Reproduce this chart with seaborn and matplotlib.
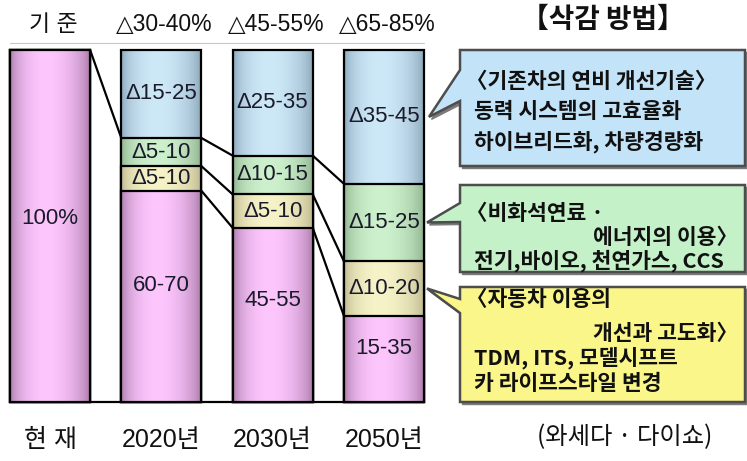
import numpy as np
import pandas as pd
import matplotlib
matplotlib.use('Agg')
import matplotlib.pyplot as plt
import seaborn as sns
from matplotlib.patches import Polygon
from matplotlib.transforms import IdentityTransform
from matplotlib.colors import to_rgb

# ---------------- data ----------------
periods = ['현 재', '2020년', '2030년', '2050년']
base_share = [100, 60, 49.5, 24.5]      # remaining share (pink)
red_traffic = [0, 7, 9.5, 15.5]         # 자동차 이용 개선 (yellow)
red_fuel = [0, 8, 11, 22]               # 비화석연료 (green)
red_eff = [0, 25, 30, 38]               # 연비 개선 (blue)

top_labels = ['기 준', '△30-40%', '△45-55%', '△65-85%']
pink_labels = ['100%', '60-70', '45-55', '15-35']
yellow_labels = ['', 'Δ5-10', 'Δ5-10', 'Δ10-20']
green_labels = ['', 'Δ5-10', 'Δ10-15', 'Δ15-25']
blue_labels = ['', 'Δ15-25', 'Δ25-35', 'Δ35-45']

title_text = '【삭감 방법】'
source_text = '(와세다 · 다이쇼)'
box_blue = ['〈기존차의 연비 개선기술〉', '동력 시스템의 고효율화', '하이브리드화, 차량경량화']
box_green = ['〈비화석연료 ·', '에너지의 이용〉', '전기,바이오, 천연가스, CCS']
box_yellow = ['〈자동차 이용의', '개선과 고도화〉', 'TDM, ITS, 모델시프트', '카 라이프스타일 변경']

# ---------------- style ----------------
sns.set_theme(style='white')
plt.rcParams['font.family'] = ['Liberation Sans', 'DejaVu Sans', 'Noto Sans CJK KR']
KR = ['Noto Sans CJK KR', 'DejaVu Sans']
NUM = ['Liberation Sans', 'DejaVu Sans', 'Noto Sans CJK KR']

W, H = 747, 461
fig = plt.figure(figsize=(W / 100, H / 100), dpi=100)
fig.patch.set_facecolor('white')
ax = fig.add_axes([0, 0, 1, 1])

df = pd.DataFrame({
    'period': periods,
    'pink': base_share,
    'yellow': np.add(base_share, red_traffic),
    'green': np.add(np.add(base_share, red_traffic), red_fuel),
    'blue': np.add(np.add(np.add(base_share, red_traffic), red_fuel), red_eff),
})

# (light centre, dark edge)
shades = {
    'blue': ('#cde9f8', '#7f9bb0'),
    'green': ('#cdf0cd', '#84a784'),
    'yellow': ('#f7f3c8', '#b3ad84'),
    'pink': ('#fdc6fd', '#9c6e9c'),
}

layers = ['blue', 'green', 'yellow', 'pink']
layer_patches = {}
for k, layer in enumerate(layers):
    n0 = len(ax.patches)
    sns.barplot(data=df, x='period', y=layer, order=periods, color=shades[layer][0],
                saturation=1, width=0.72, errorbar=None, edgecolor='black',
                linewidth=1.6, zorder=3 + k, ax=ax)
    layer_patches[layer] = list(ax.patches[n0:])

XLIM = (-0.4497, 6.262)
YLIM = (-16.76, 114.2)
ax.set_xlim(*XLIM)
ax.set_ylim(*YLIM)
ax.axis('off')

# cylinder-like shading
t = np.linspace(0, 1, 96)
prof = np.sin(np.pi * np.clip(t, 1e-6, 1) ** 0.868) ** 0.55
for k, layer in enumerate(layers):
    light, dark = np.array(to_rgb(shades[layer][0])), np.array(to_rgb(shades[layer][1]))
    img = (dark[None, :] + (light - dark)[None, :] * prof[:, None])[None, :, :]
    for p in layer_patches[layer]:
        x0, y0, w, h = p.get_x(), p.get_y(), p.get_width(), p.get_height()
        if h <= 0:
            continue
        im = ax.imshow(img, extent=[x0, x0 + w, y0, y0 + h], aspect='auto',
                       interpolation='bilinear', zorder=2.5 + k)
        im.set_clip_path(p)
        p.set_facecolor('none')
ax.set_xlim(*XLIM)
ax.set_ylim(*YLIM)

pink_p = layer_patches['pink']
left_edges = [p.get_x() for p in pink_p]
right_edges = [p.get_x() + p.get_width() for p in pink_p]

# baseline and faint top line
ax.plot([left_edges[0], right_edges[-1]], [0, 0], color='black', lw=1.6, zorder=1)
ax.plot([left_edges[0], right_edges[-1]], [101.9, 101.9], color='#c8c8c8', lw=0.8, zorder=1)

# connecting lines between boundaries
bounds = [df['green'].values, df['yellow'].values, df['pink'].values]
for i in range(len(periods) - 1):
    seen = set()
    for b in bounds:
        if b[i] in seen:
            continue
        seen.add(b[i])
        ax.plot([right_edges[i], left_edges[i + 1]], [b[i], b[i + 1]],
                color='black', lw=1.6, zorder=10, solid_capstyle='round')

# segment labels
seg_info = [('blue', 'green', blue_labels), ('green', 'yellow', green_labels),
            ('yellow', 'pink', yellow_labels)]
pink_label_frac = [0.52, 0.55, 0.58, 0.62]
for i in range(len(periods)):
    for top, bot, labs in seg_info:
        hi, lo = df[top].values[i], df[bot].values[i]
        if labs[i]:
            ax.text(i, (lo + hi) / 2, labs[i], ha='center', va='center',
                    fontsize=16, color='#1a1a2a', family=NUM, zorder=12)
    ax.text(i, df['pink'].values[i] * pink_label_frac[i], pink_labels[i], ha='center',
            va='center', fontsize=16, color='#1a1a2a', family=NUM, zorder=12)

# column headers and period labels
for i in range(len(periods)):
    ax.text(i + 0.03, 107.1, top_labels[i], ha='center', va='center',
            fontsize=16.5, color='#111111', family=NUM)
    ax.text(i, -10.8, periods[i], ha='center', va='center',
            fontsize=18, color='#111111', family=NUM)


# ---------------- callout boxes ----------------
def disp(x, y):
    return (x, H - y)


def callout(top, bottom, base1, base2, tip_disp, color):
    pts = [disp(460, top), disp(745, top), disp(745, bottom), disp(460, bottom),
           disp(460, base2), tip_disp, disp(460, base1)]
    shadow = Polygon([(x + 2.5, y - 2.5) for x, y in pts], closed=True,
                     transform=IdentityTransform(), facecolor='#7a7a7a',
                     edgecolor='#7a7a7a', lw=1, zorder=20)
    fig.add_artist(shadow)
    poly = Polygon(pts, closed=True, transform=IdentityTransform(), facecolor=color,
                   edgecolor='#4d4d4d', lw=1.8, zorder=21, joinstyle='miter')
    fig.add_artist(poly)
    return poly


fig.canvas.draw()
tip_x = right_edges[-1]
blue_mid = (df['blue'].values[-1] + df['green'].values[-1]) / 2
green_mid = (df['green'].values[-1] + df['yellow'].values[-1]) / 2
yellow_mid = (df['yellow'].values[-1] + df['pink'].values[-1]) / 2
tb = ax.transData.transform((tip_x, blue_mid)) + np.array([5, 0])
tg = ax.transData.transform((tip_x, green_mid)) + np.array([3, 0])
ty = ax.transData.transform((tip_x, yellow_mid)) + np.array([3, 0])

callout(50, 166, 70, 101, tuple(tb), '#c3e3f8')
callout(185, 272, 203, 222, tuple(tg), '#c5f1c9')
callout(287, 402, 299, 313, tuple(ty), '#fbf68a')


def ptext(x, y, s, ha='left', size=15.5, weight='bold', fam=KR, color='#111111'):
    fig.text(x / W, 1 - y / H, s, ha=ha, va='center', fontsize=size,
             fontweight=weight, family=fam, color=color, zorder=30)


for yy, s in zip([82, 112, 142], box_blue):
    ptext(466 if s.startswith('〈') else 474, yy, s)
ptext(466, 213, box_green[0])
ptext(738, 237, box_green[1], ha='right')
ptext(474, 261, box_green[2])
ptext(466, 299, box_yellow[0])
ptext(738, 333, box_yellow[1], ha='right')
ptext(474, 358, box_yellow[2])
ptext(474, 383, box_yellow[3])

ptext(603, 20, title_text, ha='center', size=20)
ptext(625, 437, source_text, ha='center', size=17.5, weight='normal')

fig.savefig('out.png', dpi=100)
